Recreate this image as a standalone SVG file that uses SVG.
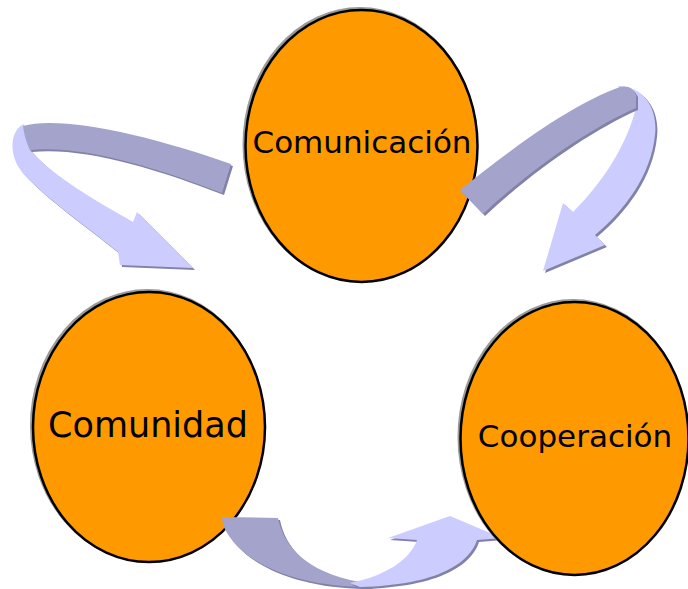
<svg xmlns="http://www.w3.org/2000/svg" width="688" height="589" viewBox="0 0 688 589">
<style>
.node{fill:#FF9900;stroke:#000;stroke-width:2.5}
.nshadow{fill:none;stroke:#9a9a9a;stroke-width:3}
.lbl{font-family:"DejaVu Sans",Verdana,sans-serif;fill:#000;text-anchor:middle}
.light{fill:#CCCCFF}
.dark{fill:#A3A3CC}
.shadow{fill:#8282A8}
</style>
<rect width="688" height="589" fill="#fff"/>
<g id="comunicacion">
<ellipse class="nshadow" cx="360" cy="144.5" rx="116" ry="136"/>
<ellipse class="node" cx="361.5" cy="146" rx="116" ry="136"/>
<text class="lbl" x="362" y="153" font-size="31">Comunicación</text>
</g>
<g id="comunidad">
<ellipse class="nshadow" cx="147.5" cy="425.5" rx="116" ry="135"/>
<ellipse class="node" cx="149" cy="427" rx="116" ry="135"/>
<text class="lbl" x="148" y="437" font-size="35">Comunidad</text>
</g>
<g id="connectors">
<g id="arrow-left">
<path class="shadow" transform="translate(2,2)" d="M 24 124 C 10 130, 8 155, 22 172 C 45 198, 85 225, 118 252 L 120 265 L 193 268 L 137 212 L 133 222 C 95 200, 55 178, 30 150 Z"/>
<path class="light" d="M 24 124 C 10 130, 8 155, 22 172 C 45 198, 85 225, 118 252 L 120 265 L 193 268 L 137 212 L 133 222 C 95 200, 55 178, 30 150 Z"/>
<path class="shadow" transform="translate(2,2)" d="M 23 126 C 60 115, 150 135, 231 164 L 222 193 C 150 165, 80 145, 30 150 C 26 142, 24 134, 23 126 Z"/>
<path class="dark" d="M 23 126 C 60 115, 150 135, 231 164 L 222 193 C 150 165, 80 145, 30 150 C 26 142, 24 134, 23 126 Z"/>
</g>
<g id="arrow-right">
<path class="shadow" transform="translate(2,2)" d="M 618 86 C 645 86, 658 110, 655 135 C 651 175, 625 210, 595 235 L 605 245 L 543 271 L 563 203 L 573 212 C 600 185, 625 150, 636 108 Z"/>
<path class="light" d="M 618 86 C 645 86, 658 110, 655 135 C 651 175, 625 210, 595 235 L 605 245 L 543 271 L 563 203 L 573 212 C 600 185, 625 150, 636 108 Z"/>
<path class="shadow" transform="translate(2,2)" d="M 460 190 C 510 150, 570 105, 620 87 C 628 85, 633 88, 636 95 L 636 108 C 590 128, 530 170, 483 214 Z"/>
<path class="dark" d="M 460 190 C 510 150, 570 105, 620 87 C 628 85, 633 88, 636 95 L 636 108 C 590 128, 530 170, 483 214 Z"/>
</g>
<g id="arrow-bottom">
<path class="shadow" transform="translate(2,2)" d="M 222 517 L 278 518 C 283 545, 305 572, 360 582 L 372 587 C 300 588, 240 565, 223 525 Z"/>
<path class="dark" d="M 222 517 L 278 518 C 283 545, 305 572, 360 582 L 372 587 C 300 588, 240 565, 223 525 Z"/>
<path class="shadow" transform="translate(2,2)" d="M 350 583 C 385 576, 410 560, 417 540 L 388 538 L 450 516 L 502 538 L 477 540 C 470 562, 440 585, 360 587 Z"/>
<path class="light" d="M 350 583 C 385 576, 410 560, 417 540 L 388 538 L 450 516 L 502 538 L 477 540 C 470 562, 440 585, 360 587 Z"/>
</g>
</g>
<g id="cooperacion">
<ellipse class="nshadow" cx="573" cy="437" rx="114" ry="136.5"/>
<ellipse class="node" cx="574.5" cy="438.5" rx="114" ry="136.5"/>
<text class="lbl" x="575" y="447" font-size="31">Cooperación</text>
</g>
</svg>
